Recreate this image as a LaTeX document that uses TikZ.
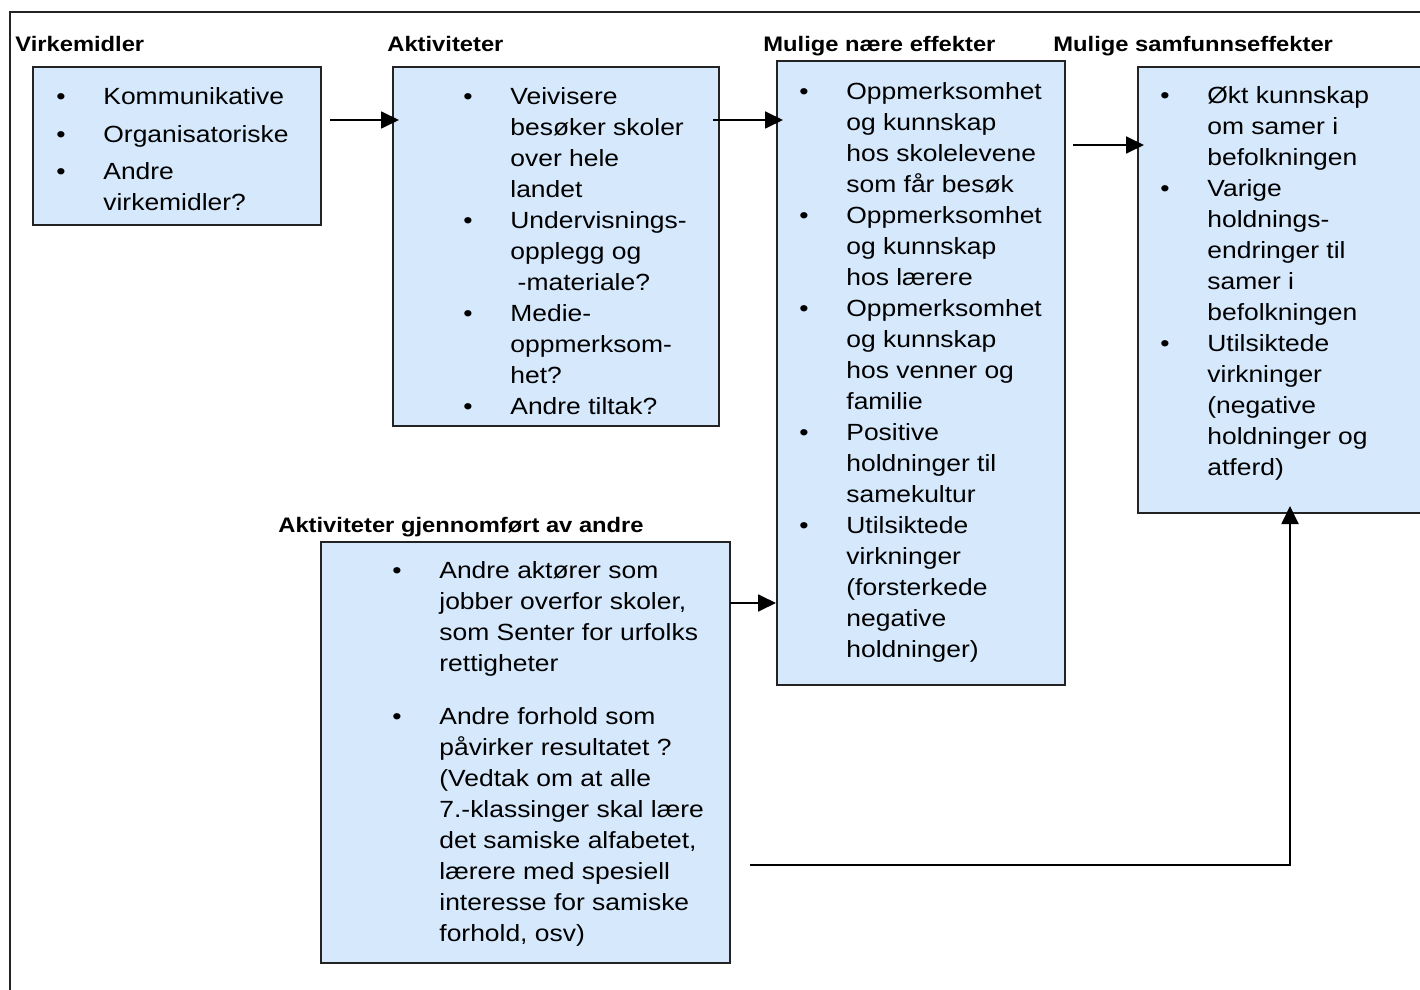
\documentclass[tikz,border=0pt]{standalone}
\usepackage{fontspec}
\setmainfont{Liberation Sans}[FakeStretch=1.13]
\usetikzlibrary{arrows.meta,fit}
\definecolor{boxblue}{RGB}{213,232,252}
\definecolor{edge}{RGB}{35,35,35}
\tikzset{
  box/.style={draw=edge, line width=1pt, fill=boxblue, inner sep=0pt},
  head/.style={anchor=base west, inner sep=0pt, font=\fontsize{10.5}{12}\selectfont\bfseries},
  items/.style={anchor=base west, inner sep=0pt, font=\fontsize{11.7}{15.5}\selectfont},
  arr/.style={line width=0.9pt, -{Triangle[length=9pt,width=8.5pt]}}
}
\newcommand{\bp}{\textbullet}
\newenvironment{blist}{\begin{tabular}[t]{@{}p{23.5pt}@{}l@{}}}{\end{tabular}}
\begin{document}
\begin{tikzpicture}[x=0.5pt,y=-0.5pt]
\useasboundingbox (0,0) rectangle (1420,990);
% frame
\draw[line width=1pt, edge] (1420,12) -- (10,12) -- (10,990);

% headings
\node[head] (h1) at (15,52) {Virkemidler};
\node[head] (h2) at (387,52) {Aktiviteter};
\node[head] (h3) at (763,52) {Mulige nære effekter};
\node[head] (h4) at (1053,52) {Mulige samfunnseffekter};
\node[head] (h5) at (278,532) {Aktiviteter gjennomført av andre};

% boxes
\node[box, fit={(33,67) (321,225)}] (virk) {};
\node[box, fit={(393,67) (719,426)}] (akt) {};
\node[box, fit={(777,61) (1065,685)}] (naer) {};
\node[box, fit={(1138,67) (1432,513)}] (samf) {};
\node[box, fit={(321,542) (730,963)}] (andre) {};

% box texts
\node[items] (virkT) at (56,105) {\begin{blist}
\bp & Kommunikative\\[3.25pt]
\bp & Organisatoriske\\[3.25pt]
\bp & Andre\\
    & virkemidler?
\end{blist}};

\begin{scope}
\clip (393,67) rectangle (719,415);
\node[items] (aktT) at (463,105) {\begin{blist}
\bp & Veivisere\\
    & besøker skoler\\
    & over hele\\
    & landet\\
\bp & Undervisnings-\\
    & opplegg og\\
    & \ -materiale?\\
\bp & Medie-\\
    & oppmerksom-\\
    & het?\\
\bp & Andre tiltak?
\end{blist}};
\end{scope}

\node[items] (naerT) at (799,100) {\begin{blist}
\bp & Oppmerksomhet\\
    & og kunnskap\\
    & hos skolelevene\\
    & som får besøk\\
\bp & Oppmerksomhet\\
    & og kunnskap\\
    & hos lærere\\
\bp & Oppmerksomhet\\
    & og kunnskap\\
    & hos venner og\\
    & familie\\
\bp & Positive\\
    & holdninger til\\
    & samekultur\\
\bp & Utilsiktede\\
    & virkninger\\
    & (forsterkede\\
    & negative\\
    & holdninger)
\end{blist}};

\node[items] (samfT) at (1160,104) {\begin{blist}
\bp & Økt kunnskap\\
    & om samer i\\
    & befolkningen\\
\bp & Varige\\
    & holdnings-\\
    & endringer til\\
    & samer i\\
    & befolkningen\\
\bp & Utilsiktede\\
    & virkninger\\
    & (negative\\
    & holdninger og\\
    & atferd)
\end{blist}};

\node[items] (andreT) at (392,578) {\begin{blist}
\bp & Andre aktører som\\
    & jobber overfor skoler,\\
    & som Senter for urfolks\\
    & rettigheter\\[11pt]
\bp & Andre forhold som\\
    & påvirker resultatet ?\\
    & (Vedtak om at alle\\
    & 7.-klassinger skal lære\\
    & det samiske alfabetet,\\
    & lærere med spesiell\\
    & interesse for samiske\\
    & forhold, osv)
\end{blist}};

% arrows
\coordinate (a1) at (330,120);
\coordinate (a2) at (713,120);
\coordinate (a3) at (1073,145);
\coordinate (a4) at (730,603);
\coordinate (a5) at (750,865);
\coordinate (a5x) at (1290,0);
\draw[arr, shorten >=-3.5pt] (a1) -- (akt.west |- a1);
\draw[arr, shorten >=-3.5pt] (a2) -- (naer.west |- a2);
\draw[arr, shorten >=-3.5pt] (a3) -- (samf.west |- a3);
\draw[arr] (a4) -- (naer.west |- a4);
\draw[arr, shorten >=-4pt] (a5) -| (samf.south -| a5x);
\end{tikzpicture}
\end{document}
